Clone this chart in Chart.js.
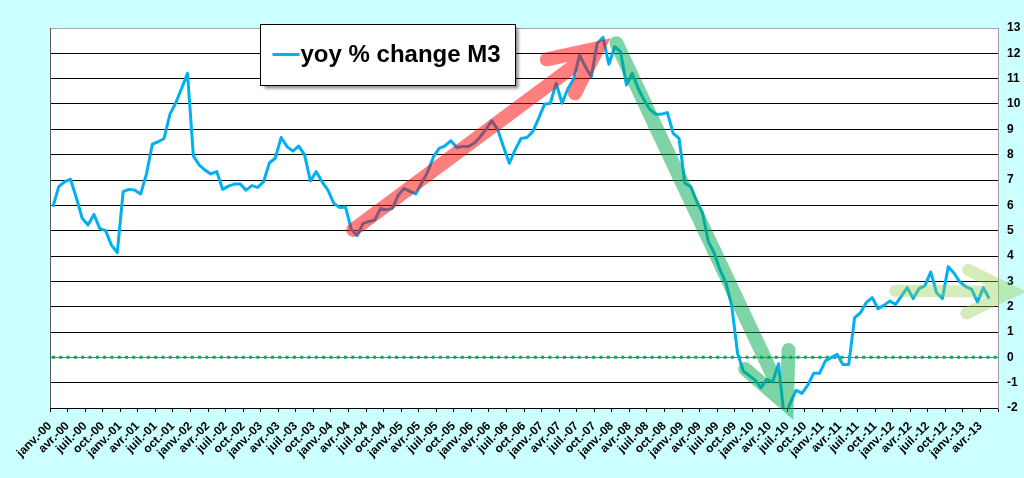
<!DOCTYPE html>
<html><head><meta charset="utf-8">
<script src="https://cdn.jsdelivr.net/npm/chart.js@4.4.0/dist/chart.umd.min.js"></script>
<style>html,body{margin:0;padding:0;background:#ccffff;}canvas{display:block;}</style>
</head><body>
<canvas id="c" width="1024" height="478" style="width:1024px;height:478px"></canvas>
<script>
// ---- data ----
const monthNames = ['janv.','févr.','mars','avr.','mai','juin','juil.','août','sept.','oct.','nov.','déc.'];
const years = ['00','01','02','03','04','05','06','07','08','09','10','11','12','13'];
const seriesName = 'yoy % change M3';
const yoyM3 = [
  5.95, 6.74, 6.93, 7.03, 6.30, 5.49, 5.22, 5.64, 5.09, 5.00, 4.43, 4.14,
  6.54, 6.63, 6.60, 6.45, 7.26, 8.42, 8.51, 8.64, 9.60, 10.05, 10.62, 11.21,
  7.95, 7.59, 7.39, 7.24, 7.33, 6.63, 6.76, 6.84, 6.84, 6.60, 6.78, 6.71,
  6.93, 7.68, 7.86, 8.68, 8.32, 8.14, 8.34, 7.99, 6.96, 7.33, 6.93, 6.60,
  6.08, 5.91, 5.93, 5.05, 4.80, 5.29, 5.36, 5.42, 5.88, 5.82, 5.88, 6.40,
  6.67, 6.55, 6.45, 6.87, 7.30, 7.90, 8.25, 8.35, 8.55, 8.28, 8.32, 8.32,
  8.45, 8.70, 9.00, 9.34, 9.00, 8.30, 7.66, 8.20, 8.64, 8.68, 8.91, 9.43,
  9.99, 10.03, 10.82, 10.03, 10.60, 11.00, 11.93, 11.47, 11.08, 12.39, 12.63, 11.57,
  12.26, 12.07, 10.75, 11.21, 10.62, 10.16, 9.79, 9.60, 9.60, 9.66, 8.84, 8.64,
  6.87, 6.74, 6.16, 5.70, 4.57, 4.12, 3.45, 2.95, 2.03, 0.15, -0.55, -0.72,
  -0.90, -1.20, -0.87, -0.97, -0.25, -2.45, -1.80, -1.30, -1.42, -1.10, -0.63, -0.63,
  -0.14, -0.01, 0.12, -0.28, -0.28, 1.57, 1.76, 2.16, 2.36, 1.92, 2.05, 2.22,
  2.09, 2.42, 2.75, 2.32, 2.71, 2.82, 3.37, 2.55, 2.32, 3.58, 3.32, 2.97,
  2.79, 2.68, 2.18, 2.75, 2.32, null
];
const yMin = -2, yMax = 13, yStep = 1;
const categories = years.flatMap(y => monthNames.map(m => m + '-' + y)).slice(0, yoyM3.length);
// trend arrows, in data coordinates [month index, value]
const arrowFrom  = [[51.3, 5.03], [96.3, 12.4], [143.9, 2.63]];
const arrowTip   = [[93.1, 12.2], [125.4, -1.88], [164.0, 2.59]];
const arrowWingA = [[84.4, 11.76], [118.3, -0.46], [156.4, 3.45]];
const arrowWingB = [[89.2, 10.42], [125.7, 0.29], [156.1, 1.74]];

// ---- styles ----
const arrowColors = ['rgba(255,0,0,0.5)', 'rgba(0,170,80,0.5)', 'rgba(146,208,80,0.4)'];
const arrowWidths = [14, 14, 12];
const lineColor = '#00b0f0';
const FONT = '"Liberation Sans", Arial, sans-serif';

const bgPlugin = {
  id: 'bg',
  beforeDraw(chart) {
    const {ctx, chartArea: a} = chart;
    ctx.save();
    ctx.fillStyle = '#ccffff';
    ctx.fillRect(0, 0, chart.width, chart.height);
    ctx.fillStyle = '#ffffff';
    ctx.fillRect(a.left, a.top, a.right - a.left, a.bottom - a.top);
    ctx.restore();
  },
  beforeDatasetsDraw(chart) {
    const {ctx, chartArea: a, scales} = chart;
    ctx.save();
    // left frame edge
    ctx.strokeStyle = '#595959';
    ctx.lineWidth = 1;
    ctx.beginPath();
    ctx.moveTo(a.left + 0.5, a.top);
    ctx.lineTo(a.left + 0.5, a.bottom);
    ctx.stroke();
    // zero reference line (dotted green)
    const y0 = scales.y.getPixelForValue(0);
    ctx.strokeStyle = '#00b050';
    ctx.lineWidth = 3;
    ctx.setLineDash([3, 4.3]);
    ctx.beginPath();
    ctx.moveTo(a.left + 2, y0);
    ctx.lineTo(a.right, y0);
    ctx.stroke();
    ctx.restore();
  },
  afterDatasetsDraw(chart) {
    const {ctx, scales} = chart;
    const px = p => [scales.x.getPixelForValue(p[0]), scales.y.getPixelForValue(p[1])];
    ctx.save();
    for (let k = 0; k < arrowFrom.length; k++) {
      const f = px(arrowFrom[k]), t = px(arrowTip[k]), wa = px(arrowWingA[k]), wb = px(arrowWingB[k]);
      ctx.strokeStyle = arrowColors[k];
      ctx.lineWidth = arrowWidths[k];
      ctx.lineCap = 'round';
      ctx.lineJoin = 'miter';
      ctx.beginPath();
      ctx.moveTo(f[0], f[1]);
      ctx.lineTo(t[0], t[1]);
      ctx.moveTo(wa[0], wa[1]);
      ctx.lineTo(t[0], t[1]);
      ctx.lineTo(wb[0], wb[1]);
      ctx.stroke();
    }
    ctx.restore();
  },
  afterDraw(chart) {
    const {ctx, chartArea: a} = chart;
    ctx.save();
    // legend box
    const bx = a.left + 210.5, by = 24.5, bw = 255, bh = 61;
    ctx.shadowColor = 'rgba(0,0,0,0.45)';
    ctx.shadowBlur = 3;
    ctx.shadowOffsetX = 3;
    ctx.shadowOffsetY = 3;
    ctx.fillStyle = '#ffffff';
    ctx.fillRect(bx, by, bw, bh);
    ctx.shadowColor = 'transparent';
    ctx.strokeStyle = '#000';
    ctx.lineWidth = 1;
    ctx.strokeRect(bx, by, bw, bh);
    ctx.strokeStyle = lineColor;
    ctx.lineWidth = 3;
    ctx.beginPath();
    ctx.moveTo(bx + 12, 54.5);
    ctx.lineTo(bx + 39, 54.5);
    ctx.stroke();
    ctx.fillStyle = '#000';
    ctx.font = 'bold 24px ' + FONT;
    ctx.textBaseline = 'alphabetic';
    ctx.fillText(seriesName, bx + 40, 62);
    ctx.restore();
  }
};

new Chart(document.getElementById('c'), {
  type: 'line',
  data: {
    labels: categories,
    datasets: [{
      label: seriesName,
      data: yoyM3,
      borderColor: lineColor,
      borderWidth: 3,
      pointRadius: 0,
      tension: 0,
      borderJoinStyle: 'round',
      clip: 0
    }]
  },
  options: {
    responsive: false,
    animation: false,
    devicePixelRatio: 1,
    layout: {padding: {left: 50, top: 28, right: 0, bottom: 0}},
    plugins: {legend: {display: false}, tooltip: {enabled: false}},
    scales: {
      x: {
        type: 'category',
        offset: true,
        grid: {
          offset: true,
          drawOnChartArea: false,
          drawTicks: true,
          tickLength: 4,
          lineWidth: 1,
          color: c => (c.index === undefined || c.index % 3 === 0) ? '#000' : 'rgba(0,0,0,0)'
        },
        border: {color: '#000', width: 1},
        ticks: {
          autoSkip: false,
          minRotation: 45,
          maxRotation: 45,
          padding: 7,
          labelOffset: -3,
          color: '#000',
          font: {family: FONT, weight: 'bold', size: 12},
          callback: (v, i) => i % 3 === 0 ? categories[i] : ''
        },
        afterFit: s => { s.height = 70; }
      },
      y: {
        type: 'linear',
        position: 'right',
        min: yMin,
        max: yMax,
        grid: {
          drawTicks: false,
          lineWidth: 1,
          color: c => c.tick && c.tick.value === yMax ? '#a6a6a6' : (c.tick && c.tick.value === 0 ? '#777' : '#000')
        },
        border: {color: '#999', width: 1},
        ticks: {
          stepSize: yStep,
          padding: 9,
          color: '#000',
          font: {family: FONT, weight: 'bold', size: 12},
          callback: v => String(v)
        },
        afterFit: s => { s.width = 26; }
      }
    }
  },
  plugins: [bgPlugin]
});
</script>
</body></html>
